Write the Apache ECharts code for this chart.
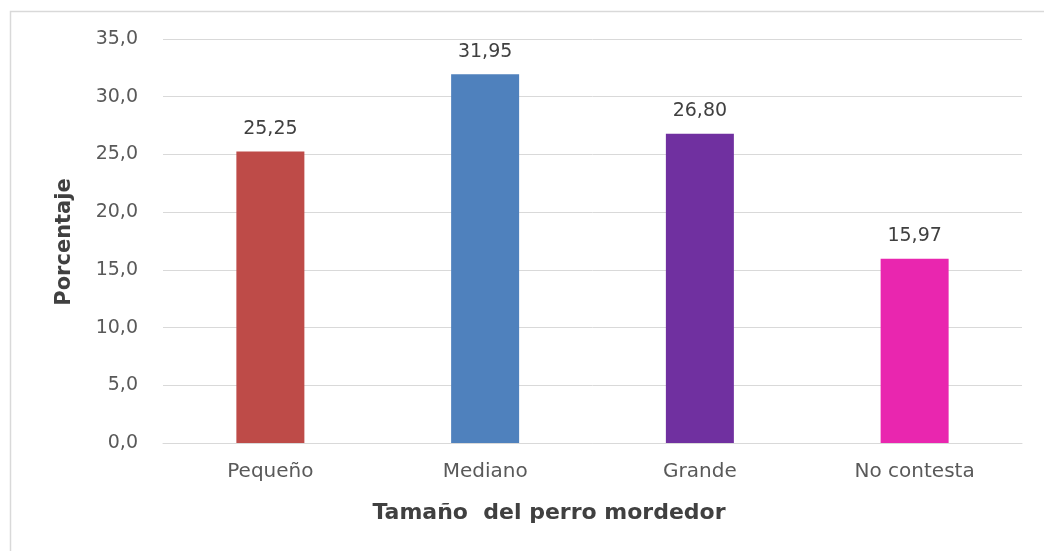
<!DOCTYPE html>
<html>
<head>
<meta charset="utf-8">
<script src="https://cdn.jsdelivr.net/npm/echarts@6/dist/echarts.min.js"></script>
<style>
  html, body { margin: 0; padding: 0; background: #fff; }
  #chart { width: 1044px; height: 551px; }
</style>
</head>
<body>
<div id="chart"></div>
<script>
// datos
var categorias = ['Pequeño', 'Mediano', 'Grande', 'No contesta'];
var valores = [25.25, 31.95, 26.80, 15.97];
var colores = ['#BE4B48', '#4F81BD', '#7030A0', '#E926AF'];
var ticksY = [0, 5, 10, 15, 20, 25, 30, 35];

var chart = echarts.init(document.getElementById('chart'));

var fuente = 'DejaVu Sans';

var option = {
    animation: false,
    grid: { left: 163, right: 22, top: 39, bottom: 108 },
    xAxis: {
        type: 'category',
        data: categorias,
        axisLine: { show: true, lineStyle: { color: '#D9D9D9', width: 1 } },
        axisTick: { show: false },
        axisLabel: { color: '#595959', fontSize: 20, fontFamily: fuente, margin: 19 }
    },
    yAxis: {
        type: 'value',
        min: ticksY[0],
        max: ticksY[ticksY.length - 1],
        interval: 5,
        axisLine: { show: false },
        axisTick: { show: false },
        splitLine: { lineStyle: { color: '#D9D9D9', width: 1 } },
        axisLabel: {
            color: '#595959', fontSize: 19, fontFamily: fuente, margin: 25,
            formatter: function (v) { return v.toFixed(1).replace('.', ','); }
        }
    },
    series: [{
        type: 'bar',
        barWidth: 68,
        data: valores.map(function (v, i) {
            return { value: v, itemStyle: { color: colores[i] } };
        }),
        label: {
            show: true,
            position: 'top',
            distance: 13,
            color: '#404040',
            fontSize: 19,
            fontFamily: fuente,
            formatter: function (p) { return p.value.toFixed(2).replace('.', ','); }
        }
    }],
    graphic: [
        {
            type: 'rect',
            shape: { x: 10.5, y: 11.5, width: 1100, height: 600 },
            style: { fill: 'none', stroke: '#D9D9D9', lineWidth: 1.5 },
            silent: true
        },
        {
            type: 'text',
            x: 65, y: 242,
            rotation: Math.PI / 2,
            style: {
                text: 'Porcentaje', fill: '#404040', font: 'bold 21px ' + fuente,
                textAlign: 'center', textVerticalAlign: 'middle'
            }
        },
        {
            type: 'text',
            x: 549, y: 513,
            style: {
                text: 'Tamaño  del perro mordedor', fill: '#404040', font: 'bold 22px ' + fuente,
                textAlign: 'center', textVerticalAlign: 'middle'
            }
        }
    ]
};

chart.setOption(option);
</script>
</body>
</html>
